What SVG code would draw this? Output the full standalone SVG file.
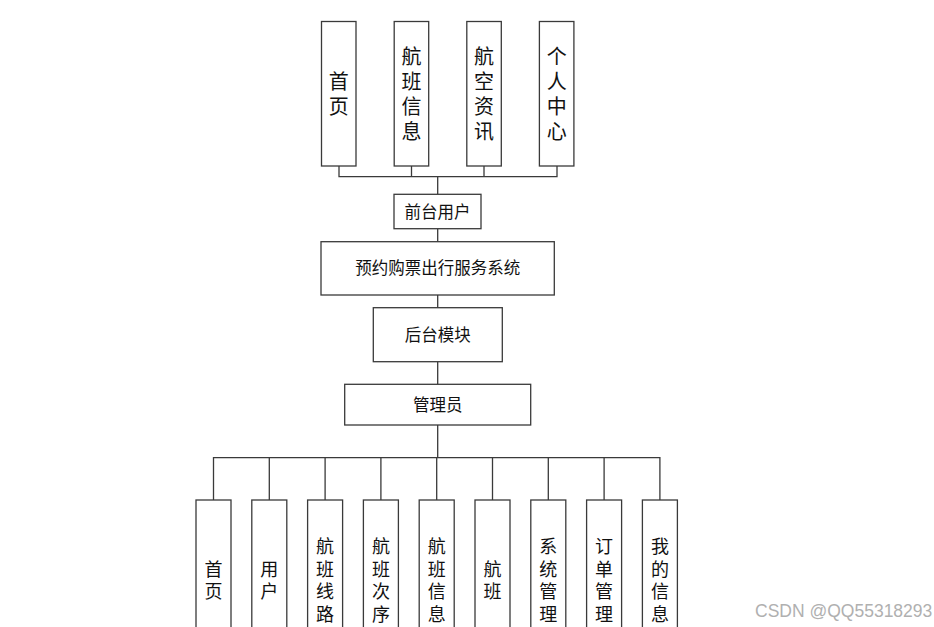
<svg xmlns="http://www.w3.org/2000/svg" width="934" height="627" viewBox="0 0 934 627">
<style>
.box{fill:#fff;stroke:#3a3a3a;stroke-width:1.3}
.ln{fill:none;stroke:#3a3a3a;stroke-width:1.3}
text{font-family:"Noto Sans CJK SC","Noto Sans",sans-serif;fill:#111;text-anchor:middle}
.t{font-size:20px;writing-mode:vertical-rl;letter-spacing:5px}
.m{font-size:16.5px}
.b{font-size:18px;writing-mode:vertical-rl;letter-spacing:4.5px}
.wm{font-family:"Liberation Sans",Arial,sans-serif;font-size:17.5px;fill:#b0b0b0;text-anchor:start}
</style>
<rect width="934" height="627" fill="#fff"/>
<g id="connectors">
<path class="ln" d="M339 166V176.7H557V166M411.5 166V176.7M484 166V176.7M437.7 176.7V194.3"/>
<path class="ln" d="M437.7 228.7V241.7M437.7 295V307.7M437.7 361.7V384.3M437.7 425V457.7"/>
<path class="ln" d="M213.5 500V457.7H659.9V500M269.3 457.7V500M325.1 457.7V500M380.9 457.7V500M436.7 457.7V500M492.5 457.7V500M548.3 457.7V500M604.1 457.7V500"/>
</g>
<g id="top-shouye"><rect class="box" x="321.5" y="21.5" width="34.5" height="144.5"/><text class="t" x="338.8" y="96.5">首页</text></g>
<g id="top-hangban"><rect class="box" x="394.2" y="21.5" width="34.5" height="144.5"/><text class="t" x="411.5" y="96.5">航班信息</text></g>
<g id="top-hangkong"><rect class="box" x="466.8" y="21.5" width="34.5" height="144.5"/><text class="t" x="484" y="96.5">航空资讯</text></g>
<g id="top-geren"><rect class="box" x="539.4" y="21.5" width="34.5" height="144.5"/><text class="t" x="556.7" y="96.5">个人中心</text></g>
<g id="qiantai"><rect class="box" x="394" y="194.3" width="87" height="34.4"/><text class="m" x="437.5" y="217.5">前台用户</text></g>
<g id="system"><rect class="box" x="321" y="241.7" width="233.3" height="53.3"/><text class="m" x="437.7" y="274">预约购票出行服务系统</text></g>
<g id="houtai"><rect class="box" x="373.3" y="307.7" width="129" height="54"/><text class="m" x="437.7" y="340.5">后台模块</text></g>
<g id="admin"><rect class="box" x="344.7" y="384.3" width="186" height="40.7"/><text class="m" x="437.7" y="410.5">管理员</text></g>
<g id="b-shouye"><rect class="box" x="196" y="500" width="35" height="160"/><text class="b" x="213.5" y="582.3">首页</text></g>
<g id="b-yonghu"><rect class="box" x="251.8" y="500" width="35" height="160"/><text class="b" x="269.3" y="582.3">用户</text></g>
<g id="b-xianlu"><rect class="box" x="307.6" y="500" width="35" height="160"/><text class="b" x="325.1" y="582.3">航班线路</text></g>
<g id="b-cixu"><rect class="box" x="363.4" y="500" width="35" height="160"/><text class="b" x="380.9" y="582.3">航班次序</text></g>
<g id="b-xinxi"><rect class="box" x="419.2" y="500" width="35" height="160"/><text class="b" x="436.7" y="582.3">航班信息</text></g>
<g id="b-hangban"><rect class="box" x="475" y="500" width="35" height="160"/><text class="b" x="492.5" y="582.3">航班</text></g>
<g id="b-xitong"><rect class="box" x="530.8" y="500" width="35" height="160"/><text class="b" x="548.3" y="582.3">系统管理</text></g>
<g id="b-dingdan"><rect class="box" x="586.6" y="500" width="35" height="160"/><text class="b" x="604.1" y="582.3">订单管理</text></g>
<g id="b-wode"><rect class="box" x="642.4" y="500" width="35" height="160"/><text class="b" x="659.9" y="582.3">我的信息</text></g>
<text class="wm" x="755" y="617">CSDN @QQ55318293</text>
</svg>
